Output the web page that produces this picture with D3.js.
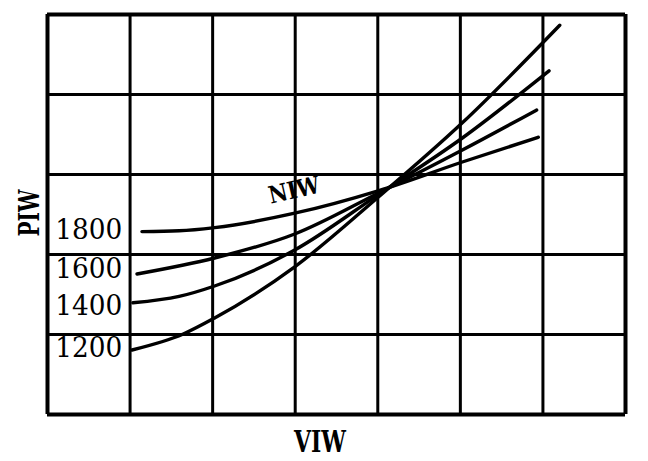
<!DOCTYPE html>
<html>
<head>
<meta charset="utf-8">
<script src="https://cdn.jsdelivr.net/npm/d3@7"></script>
<style>
  html, body { margin: 0; padding: 0; background: #fff; }
  svg { display: block; }
</style>
</head>
<body>
<svg id="chart" width="648" height="461"></svg>
<script>
// Grid units: VIW along x (0..7), PIW along y (0..5)
const xTicks = [0, 1, 2, 3, 4, 5, 6, 7];
const yTicks = [0, 1, 2, 3, 4, 5];

const seriesNames = ["1800", "1600", "1400", "1200"];
const viw1800 = [1.15, 1.6, 2.03, 3.00, 4.01, 5.03, 5.95];
const piw1800 = [2.28, 2.29, 2.33, 2.51, 2.79, 3.15, 3.46];
const viw1600 = [1.09, 2.03, 3.00, 4.01, 5.03, 5.93];
const piw1600 = [1.75, 1.95, 2.25, 2.76, 3.30, 3.80];
const viw1400 = [1.04, 1.6, 2.03, 3.00, 4.01, 5.03, 6.08];
const piw1400 = [1.39, 1.47, 1.60, 2.05, 2.74, 3.45, 4.29];
const viw1200 = [1.03, 1.65, 2.03, 3.00, 4.01, 5.03, 6.21];
const piw1200 = [0.80, 1.00, 1.20, 1.84, 2.71, 3.64, 4.86];
// label positions (grid units) for the series names
const labelViw = [0.1, 0.1, 0.1, 0.1];
const labelPiw = [2.19, 1.70, 1.24, 0.71];

const svg = d3.select("#chart");
const x = d3.scaleLinear().domain([0, 7]).range([47, 625]);
const y = d3.scaleLinear().domain([0, 5]).range([414, 14]);

// vertical grid
svg.append("g")
  .attr("transform", `translate(0,${y(0)})`)
  .call(d3.axisBottom(x).tickValues(xTicks).tickSize(-(y(0) - y(5))).tickFormat(""))
  .call(g => g.select(".domain").remove())
  .call(g => g.selectAll("line").attr("stroke", "#000")
    .attr("stroke-width", (d) => (d === 0 || d === 7) ? 4 : 3));

// horizontal grid
svg.append("g")
  .attr("transform", `translate(${x(0)},0)`)
  .call(d3.axisLeft(y).tickValues(yTicks).tickSize(-(x(7) - x(0))).tickFormat(""))
  .call(g => g.select(".domain").remove())
  .call(g => g.selectAll("line").attr("stroke", "#000")
    .attr("stroke-width", (d) => (d === 0 || d === 5) ? 4 : 3));

// curves
const series = [
  [viw1800, piw1800],
  [viw1600, piw1600],
  [viw1400, piw1400],
  [viw1200, piw1200]
];
const line = d3.line()
  .x(d => x(d[0]))
  .y(d => y(d[1]))
  .curve(d3.curveMonotoneX);

series.forEach(([xs, ys]) => {
  svg.append("path")
    .datum(xs.map((v, i) => [v, ys[i]]))
    .attr("d", line)
    .attr("fill", "none")
    .attr("stroke", "#000")
    .attr("stroke-width", 3.4)
    .attr("stroke-linecap", "round");
});

// series labels
seriesNames.forEach((name, i) => {
  svg.append("text")
    .attr("x", x(labelViw[i]))
    .attr("y", y(labelPiw[i]))
    .attr("font-family", "'DejaVu Serif', serif")
    .attr("font-size", 27)
    .attr("textLength", 67)
    .attr("lengthAdjust", "spacingAndGlyphs")
    .attr("fill", "#000")
    .text(name);
});

// axis titles
svg.append("text")
  .attr("x", 320).attr("y", 452)
  .attr("text-anchor", "middle")
  .attr("font-family", "'DejaVu Serif', serif")
  .attr("font-weight", "bold")
  .attr("font-size", 29)
  .attr("textLength", 52)
  .attr("lengthAdjust", "spacingAndGlyphs")
  .text("VIW");

svg.append("text")
  .attr("transform", "translate(39,213) rotate(-90)")
  .attr("text-anchor", "middle")
  .attr("font-family", "'DejaVu Serif', serif")
  .attr("font-weight", "bold")
  .attr("font-size", 27)
  .attr("textLength", 47)
  .attr("lengthAdjust", "spacingAndGlyphs")
  .text("PIW");

svg.append("text")
  .attr("transform", "translate(296,198) rotate(-13)")
  .attr("text-anchor", "middle")
  .attr("font-family", "'DejaVu Serif', serif")
  .attr("font-weight", "bold")
  .attr("font-size", 24)
  .attr("textLength", 52)
  .attr("lengthAdjust", "spacingAndGlyphs")
  .text("NIW");
</script>
</body>
</html>
